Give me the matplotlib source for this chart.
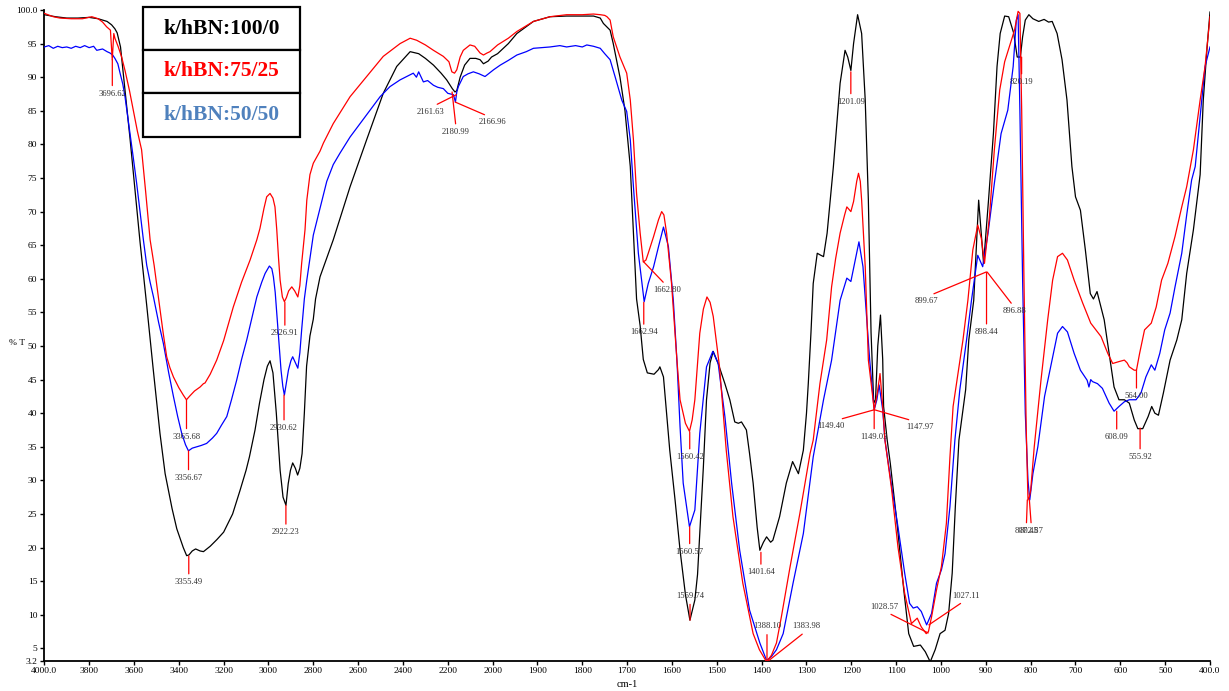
import numpy as np
import matplotlib
matplotlib.use("Agg")
import matplotlib.pyplot as plt
from matplotlib.patches import Rectangle

plt.rcParams['font.family'] = ['Liberation Serif', 'DejaVu Serif']

# ---------------- data (wavenumber cm-1, %T) ----------------
black_wn = [4000, 3950, 3900, 3850, 3800, 3760, 3720, 3700, 3685, 3675, 3660, 3640, 3618, 3595, 3573,
            3543, 3514, 3484, 3461, 3430, 3409, 3380, 3365, 3355, 3340, 3325, 3305, 3290, 3260,
            3230, 3200, 3160, 3127, 3100, 3085, 3060, 3040, 3020, 3005, 2993, 2980, 2965, 2948, 2935, 2922,
            2912, 2902, 2892, 2880, 2870, 2860, 2850, 2840, 2830, 2815, 2800, 2790, 2770, 2711, 2636, 2562,
            2488, 2428, 2368, 2330, 2300, 2264, 2230, 2205, 2180, 2168, 2160, 2145, 2125, 2101, 2075, 2056,
            2041, 2020, 2005, 1989, 1965, 1946, 1909, 1872, 1835, 1800, 1775, 1760, 1753, 1738, 1731, 1716,
            1705, 1693, 1686, 1679, 1671, 1664, 1655, 1640, 1630, 1627, 1619, 1612, 1605, 1593, 1582, 1570,
            1560, 1549, 1543, 1538, 1530, 1523, 1515, 1508, 1497, 1482, 1471, 1460, 1452, 1445, 1434, 1427,
            1419, 1410, 1404, 1396, 1389, 1380, 1375, 1360, 1345, 1331, 1318, 1307, 1300, 1296, 1290, 1285,
            1276, 1268, 1262, 1254, 1240, 1225, 1214, 1208, 1201, 1195, 1186, 1177, 1169, 1162, 1156, 1150,
            1146, 1141, 1135, 1130, 1128, 1120, 1113, 1098, 1083, 1072, 1061, 1046, 1035, 1024, 1013, 1002,
            991, 983, 975, 968, 960, 953, 945, 938, 927, 916, 905, 894, 883, 875, 868, 858, 849, 838, 830,
            823, 818, 812, 804, 795, 782, 770, 760, 752, 741, 730, 719, 708, 700, 689, 678, 667, 660, 652,
            647, 636, 625, 614, 603, 591, 580, 569, 561, 550, 538, 530, 523, 515, 504, 489, 474, 463, 452,
            437, 422, 415, 407, 400]
black_t = [99.3, 99.0, 98.8, 98.8, 98.9, 98.7, 98.3, 97.8, 97.2, 96.6, 94.5, 88.0, 81.0, 73.0, 65.5,
           56.0, 46.5, 37.0, 31.0, 25.8, 22.8, 20.0, 18.8, 18.9, 19.5, 19.8, 19.5, 19.4, 20.2,
           21.2, 22.3, 25.0, 28.5, 31.5, 33.5, 37.5, 41.5, 45.0, 47.0, 47.8, 46.0, 40.0, 31.5, 27.5, 26.3,
           29.5, 31.5, 32.6, 31.8, 30.8, 31.8, 34.0, 40.0, 47.0, 51.5, 54.0, 57.0, 60.3, 65.8, 73.7, 80.7,
           87.6, 91.6, 93.8, 93.5, 92.8, 91.8, 90.6, 89.6, 88.3, 87.8, 88.0, 90.0, 91.8, 92.8, 92.8, 92.6,
           92.0, 92.4, 93.0, 93.5, 95.0, 96.5, 98.3, 99.0, 99.1, 99.1, 99.1, 98.8, 98.0, 97.0, 95.0, 90.0,
           85.1, 76.7, 66.8, 57.0, 53.0, 48.0, 46.0, 45.8, 46.5, 46.9, 45.4, 40.0, 34.5, 27.0, 19.6, 13.0,
           9.2, 12.2, 16.0, 22.1, 32.0, 42.0, 47.5, 49.2, 47.4, 44.4, 42.0, 38.7, 38.5, 38.7, 37.5, 34.0,
           29.6, 23.0, 19.6, 20.8, 21.6, 20.8, 21.1, 24.6, 29.6, 32.8, 31.0, 34.5, 40.0, 44.4, 52.0, 59.3,
           63.8, 63.5, 63.3, 66.8, 76.7, 89.1, 94.0, 93.0, 91.0, 95.0, 99.3, 96.5, 86.6, 71.7, 52.0, 41.5,
           42.0, 50.0, 54.6, 48.0, 41.0, 36.0, 32.5, 23.6, 13.7, 7.2, 5.3, 5.5, 4.5, 3.0, 4.8, 7.2,
           7.7, 10.2, 16.2, 26.1, 36.0, 39.5, 43.5, 50.9, 56.8, 71.7, 62.3, 71.7, 81.7, 91.6, 96.5, 99.1, 99.0, 96.6, 93.0,
           93.0, 96.0, 98.5, 99.3, 98.7, 98.3, 98.6, 98.2, 98.3, 96.5, 92.6, 86.6, 76.7, 72.2, 70.2, 64.3, 57.8, 57.0, 58.1,
           56.8, 53.9, 48.9, 43.9, 42.0, 42.0, 41.5, 39.0, 37.7, 37.7, 39.5, 41.0, 40.0, 39.7, 43.0, 47.9, 50.9, 53.9, 60.8,
           67.3, 75.5, 86.6, 94.0, 99.7]

red_wn = [4000, 3960, 3930, 3880, 3830, 3788, 3760, 3740, 3722, 3705, 3697, 3690, 3685, 3670, 3655, 3640,
          3620, 3603, 3585, 3566, 3548, 3528, 3510, 3491, 3470, 3454, 3440, 3424, 3400, 3380, 3366, 3350,
          3330, 3305, 3290, 3283, 3260, 3231, 3200, 3157, 3120, 3082, 3052, 3038, 3020, 3008, 2993, 2980,
          2971, 2963, 2955, 2948, 2938, 2929, 2920, 2910, 2896, 2883, 2869, 2860, 2852, 2837, 2829, 2815,
          2800, 2770, 2755, 2711, 2636, 2562, 2488, 2413, 2368, 2339, 2300, 2264, 2220, 2195, 2182, 2170,
          2160, 2145, 2131, 2101, 2080, 2056, 2041, 2025, 2012, 1989, 1965, 1946, 1909, 1872, 1835, 1800,
          1775, 1760, 1750, 1745, 1738, 1731, 1716, 1701, 1693, 1686, 1679, 1671, 1664, 1658, 1653, 1641,
          1630, 1623, 1618, 1612, 1601, 1589, 1582, 1570, 1561, 1555, 1549, 1538, 1530, 1522, 1515, 1508,
          1494, 1479, 1464, 1442, 1419, 1405, 1389, 1378, 1367, 1356, 1337, 1315, 1292, 1285, 1270, 1262,
          1255, 1244, 1235, 1225, 1215, 1210, 1205, 1201, 1195, 1188, 1184, 1180, 1177, 1169, 1162, 1155,
          1149, 1142, 1136, 1130, 1125, 1110, 1096, 1081, 1066, 1053, 1044, 1033, 1028, 1021, 1010, 999,
          988, 980, 973, 962, 951, 940, 929, 918, 910, 903, 892, 881, 869, 858, 843, 836, 828, 824,
          820, 815, 810, 806, 803, 800, 792, 777, 762, 751, 740, 729, 718, 703, 684, 666, 643, 628,
          617, 602, 591, 585, 580, 569, 564, 557, 546, 531, 520, 508, 494, 478, 463, 452, 437, 422,
          411, 400]
red_t = [99.5, 99.0, 98.8, 98.7, 98.7, 99.0, 98.7, 98.2, 97.5, 97.0, 92.6, 96.5, 95.8, 94.5, 93.0, 91.0,
         88.0, 85.1, 82.0, 79.2, 73.0, 65.8, 62.0, 57.3, 52.0, 48.4, 46.8, 45.4, 43.8, 42.7, 42.0, 42.6,
         43.3, 43.9, 44.4, 44.5, 45.8, 47.9, 50.8, 55.8, 59.5, 62.8, 65.8, 67.5, 70.5, 72.2, 72.7, 72.0,
         70.7, 67.3, 63.0, 59.8, 57.3, 56.6, 57.2, 58.2, 58.8, 58.2, 57.3, 59.0, 62.3, 67.3, 71.7, 75.5,
         77.2, 79.0, 80.2, 83.1, 87.1, 90.1, 93.1, 95.0, 95.8, 95.5, 94.8, 94.0, 93.1, 92.3, 90.8, 90.6,
         91.1, 93.0, 94.0, 94.8, 94.6, 93.6, 93.3, 93.6, 93.8, 94.8, 95.8, 96.8, 98.3, 99.0, 99.3, 99.3,
         99.4, 99.3, 99.2, 99.0, 98.5, 96.0, 93.0, 90.6, 86.6, 80.7, 72.7, 66.8, 62.5, 62.8, 63.8, 66.3,
         68.8, 70.0, 69.5, 66.8, 59.3, 47.9, 42.0, 38.5, 37.3, 39.0, 42.0, 51.9, 55.5, 57.3, 56.5, 54.4,
         46.9, 34.5, 24.6, 14.7, 7.2, 4.8, 3.0, 4.0, 5.8, 9.7, 17.0, 25.0, 34.0, 36.0, 44.4, 47.9,
         50.9, 58.8, 63.0, 66.8, 69.5, 70.7, 70.3, 70.0, 71.5, 74.5, 75.7, 74.5, 71.7, 61.8, 47.9, 44.0,
         40.5, 43.0, 45.9, 41.0, 36.0, 28.6, 20.1, 13.2, 8.7, 9.5, 8.2, 7.2, 7.5, 9.7, 13.7, 17.2,
         23.6, 33.5, 41.0, 45.9, 50.9, 56.8, 64.3, 68.0, 66.0, 62.3, 69.2, 79.2, 88.1, 92.3, 95.5, 97.0, 99.8, 99.5,
         85.0, 60.0, 38.0, 27.1, 27.5, 28.5, 35.0, 44.9, 53.9, 59.8, 63.3, 63.8, 62.8, 59.8, 56.4, 53.4, 51.4, 48.9,
         47.4, 47.7, 47.9, 47.5, 46.9, 46.4, 46.4, 48.9, 52.4, 53.4, 55.8, 59.8, 62.3, 66.3, 70.7, 73.7, 79.2, 86.6,
         91.6, 99.0]

blue_wn = [4000, 3980, 3960, 3940, 3920, 3900, 3880, 3860, 3840, 3820, 3800, 3780, 3766, 3740, 3720, 3707,
           3695, 3685, 3672, 3662, 3650, 3640, 3618, 3603, 3588, 3573, 3558, 3543, 3528, 3513, 3490, 3469,
           3445, 3424, 3405, 3387, 3370, 3357, 3340, 3320, 3300, 3276, 3250, 3231, 3210, 3186, 3165, 3142,
           3120, 3097, 3075, 3052, 3030, 3015, 2996, 2985, 2978, 2970, 2963, 2952, 2944, 2936, 2929, 2920,
           2911, 2900, 2892, 2880, 2869, 2860, 2852, 2840, 2829, 2815, 2800, 2770, 2740, 2711, 2681, 2636,
           2562, 2502, 2458, 2413, 2383, 2354, 2340, 2330, 2309, 2290, 2264, 2245, 2220, 2200, 2175, 2166,
           2160, 2153, 2140, 2131, 2110, 2086, 2060, 2034, 2015, 1998, 1983, 1965, 1946, 1925, 1909, 1890,
           1872, 1850, 1835, 1815, 1800, 1790, 1775, 1760, 1750, 1738, 1727, 1712, 1701, 1693, 1686, 1675,
           1662, 1653, 1641, 1630, 1619, 1608, 1597, 1589, 1582, 1575, 1561, 1549, 1538, 1523, 1509, 1497,
           1482, 1467, 1449, 1427, 1404, 1389, 1378, 1367, 1352, 1330, 1307, 1285, 1262, 1244, 1225, 1210,
           1201, 1183, 1174, 1166, 1159, 1149, 1143, 1138, 1130, 1125, 1110, 1096, 1081, 1070, 1062, 1053,
           1044, 1032, 1021, 1010, 999, 991, 980, 969, 958, 943, 932, 918, 907, 895, 881, 866, 851, 839,
           832, 828, 824, 818, 812, 806, 802, 795, 784, 769, 754, 740, 729, 718, 703, 689, 674, 670,
           666, 662, 651, 640, 625, 614, 603, 591, 580, 565, 554, 543, 531, 523, 512, 501, 489, 478,
           463, 452, 441, 433, 422, 411, 400]
blue_t = [94.5, 94.7, 94.3, 94.6, 94.4, 94.5, 94.3, 94.6, 94.4, 94.7, 94.4, 94.6, 94.0, 94.2, 93.8, 93.6,
          93.3, 92.8, 92.0, 90.6, 89.0, 87.1, 81.7, 78.0, 74.2, 70.0, 65.8, 62.0, 59.5, 57.3, 53.5, 50.4,
          46.0, 42.5, 39.5, 37.0, 35.3, 34.4, 34.8, 35.0, 35.2, 35.5, 36.3, 37.0, 38.2, 39.5, 42.0, 44.9,
          48.0, 50.9, 54.0, 57.3, 59.5, 60.8, 61.9, 61.5, 60.3, 58.0, 54.9, 50.0, 46.4, 44.0, 42.7, 44.5,
          46.4, 47.8, 48.4, 47.5, 46.7, 49.0, 52.4, 57.0, 59.8, 63.0, 66.5, 70.5, 74.5, 77.0, 78.7, 81.1,
          84.4, 87.1, 88.6, 89.6, 90.1, 90.6, 90.0, 90.8, 89.3, 89.5, 88.8, 88.5, 88.3, 87.6, 87.4, 86.3,
          87.8, 88.6, 89.5, 90.1, 90.5, 90.8, 90.5, 90.1, 90.6, 91.1, 91.8, 92.5, 93.3, 93.8, 94.3, 94.4,
          94.5, 94.7, 94.5, 94.7, 94.5, 94.8, 94.6, 94.3, 93.5, 92.6, 90.1, 86.6, 84.9, 80.7, 73.7, 63.8,
          56.6, 59.3, 61.8, 64.8, 67.7, 64.8, 56.8, 47.9, 38.0, 29.6, 23.1, 25.6, 37.0, 46.9, 49.2, 47.4,
          39.5, 29.6, 19.6, 10.7, 5.8, 3.2, 3.8, 4.8, 7.2, 14.7, 22.1, 33.5, 42.0, 47.9, 56.8, 60.1,
          59.6, 65.5, 61.8, 54.4, 47.9, 40.5, 42.0, 44.2, 40.5, 36.0, 29.1, 23.1, 16.2, 11.7, 11.0, 11.2,
          10.5, 8.5, 10.2, 14.7, 16.7, 19.1, 26.1, 36.0, 43.5, 50.9, 56.8, 63.5, 61.8, 66.8, 74.2, 81.6, 85.1, 91.6,
          98.5, 99.3, 85.0, 60.0, 40.0, 30.0, 27.1, 31.0, 35.0, 42.5, 47.4, 51.9, 52.9, 52.1, 48.9, 46.4, 44.9, 43.9,
          45.0, 44.7, 44.4, 43.7, 41.5, 40.3, 41.0, 41.7, 42.0, 42.0, 43.0, 45.4, 47.2, 46.4, 48.9, 52.4, 54.9, 58.8,
          63.8, 69.5, 74.7, 76.7, 84.1, 91.6, 94.5]

series_labels = ["k/hBN:100/0", "k/hBN:75/25", "k/hBN:50/50"]

# peak annotations: label (wavenumber), %T at peak, label offset (px), side
peak_labels = ["3696.62", "3365.68", "3356.67", "3355.49", "2926.91", "2930.62", "2922.23",
               "2161.63", "2180.99", "2166.96", "1662.80", "1662.94", "1560.42", "1560.57",
               "1559.74", "1401.64", "1388.10", "1383.98", "1201.09", "1149.40", "1149.03",
               "1147.97", "1028.57", "1027.11", "899.67", "898.44", "896.88", "820.19",
               "807.45", "802.87", "608.09", "564.00", "555.92"]
peak_t = [92.6, 42.0, 34.4, 18.75, 56.5, 42.7, 26.3,
          87.4, 87.8, 86.3, 62.5, 56.5, 37.2, 23.1,
          9.2, 19.3, 3.2, 3.2, 90.8, 40.5, 40.5,
          40.5, 7.3, 8.5, 61.0, 61.0, 61.0, 93.0,
          27.1, 27.1, 40.3, 46.4, 37.8]
label_dx = [0, 0, 0, 0, 0, 0, 0,
            -26, 4, 37, 23, 0, 0, 0,
            0, 0, 0, 38, 0, -43, 0,
            45, -44, 37, -60, 0, 27, 0,
            -1, 2, 0, 0, 0]
label_dy = [-30, -33, -23, -22, -27, -29, -23,
            -13, -36, -16, -24, -26, -21, -21,
            20, -16, 30, 30, -26, -12, -23,
            -13, 22, 25, -25, -56, -35, -21,
            -27, -27, -22, -22, -25]

# ---------------- figure ----------------
W, H = 1229, 691
fig = plt.figure(figsize=(W / 100, H / 100), dpi=100)
ax = fig.add_axes([44.3 / W, 1 - 660.5 / H, (1210 - 44.3) / W, (660.5 - 10) / H])


def fwd(x):
    x = np.asarray(x, dtype=float)
    return np.where(x >= 2000, (x - 2000) / 200.0, (x - 2000) / 100.0)


def inv(y):
    y = np.asarray(y, dtype=float)
    return np.where(y >= 0, 2000 + 200 * y, 2000 + 100 * y)


ax.set_xscale('function', functions=(fwd, inv))

lw = 0.9
ax.plot(black_wn, black_t, color='black', lw=lw, zorder=3)
ax.plot(red_wn, red_t, color='#ff0000', lw=lw, zorder=4)
ax.plot(blue_wn, blue_t, color='#0000ff', lw=lw, zorder=3)

ax.set_xlim(4000, 400)
ax.set_ylim(3.2, 100)

xt = [4000, 3800, 3600, 3400, 3200, 3000, 2800, 2600, 2400, 2200, 2000, 1900, 1800, 1700, 1600,
      1500, 1400, 1300, 1200, 1100, 1000, 900, 800, 700, 600, 500, 400]
xtl = ["4000.0"] + [str(v) for v in xt[1:-1]] + ["400.0"]
ax.set_xticks(xt)
ax.set_xticklabels(xtl)
ax.xaxis.set_minor_locator(matplotlib.ticker.NullLocator())
yt = [3.2] + list(range(5, 100, 5)) + [100]
ytl = ["3.2"] + [str(v) for v in range(5, 100, 5)] + ["100.0"]
ax.set_yticks(yt)
ax.set_yticklabels(ytl)

for s in ['top', 'right']:
    ax.spines[s].set_visible(False)
for s in ['left', 'bottom']:
    ax.spines[s].set_linewidth(1.3)
ax.tick_params(axis='both', direction='out', length=3, width=1, labelsize=6.8, colors='black',
               pad=2)

ax.set_ylabel('% T', rotation=0, fontsize=6.8, ha='center', va='center')
ax.yaxis.set_label_coords(-0.0234, 0.488)
ax.set_xlabel('cm-1', fontsize=7.5)
ax.xaxis.set_label_coords(0.5, -0.037)
ax.xaxis.label.set_va('center')

# peak annotations
for lab, t, dx, dy in zip(peak_labels, peak_t, label_dx, label_dy):
    below = dy < 0
    ax.annotate(lab, xy=(float(lab), t), xytext=(dx, dy), textcoords='offset pixels',
                ha='center', va='top' if below else 'bottom', fontsize=6.2, color='#333333',
                annotation_clip=False, zorder=5,
                arrowprops=dict(arrowstyle='-', color='#ff0000', lw=0.9, shrinkA=1, shrinkB=0,
                                relpos=(0.5, 1.0) if below else (0.5, 0.0)))

# legend box
lx0, lx1 = 143 / W, 300 / W
rows_px = [7, 50, 93, 137]
leg_colors = ['black', '#ff0000', '#4f81bd']
for i, (lab, c) in enumerate(zip(series_labels, leg_colors)):
    ytop = 1 - rows_px[i] / H
    ybot = 1 - rows_px[i + 1] / H
    fig.patches.append(Rectangle((lx0, ybot), lx1 - lx0, ytop - ybot, transform=fig.transFigure,
                                 facecolor='white', edgecolor='black', lw=1.6, zorder=10))
    fig.text((lx0 + lx1) / 2, (ytop + ybot) / 2, lab, color=c, fontsize=15.5, fontweight='bold',
             ha='center', va='center', zorder=11)

fig.savefig('out.png', dpi=100)
